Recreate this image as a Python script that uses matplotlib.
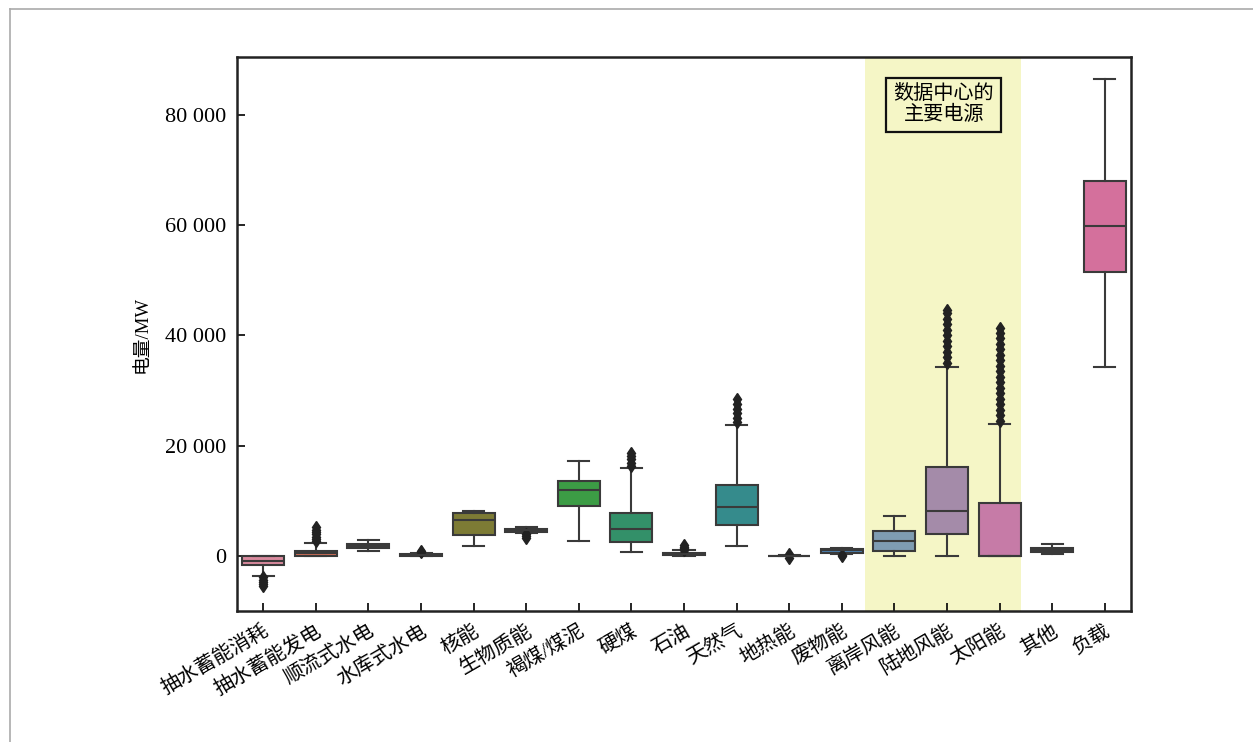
import matplotlib
matplotlib.use("Agg")
import matplotlib.pyplot as plt
from matplotlib.ticker import FuncFormatter
from matplotlib.lines import Line2D

plt.rcParams['font.family'] = ['Liberation Serif', 'Noto Sans CJK SC']

categories = ['抽水蓄能消耗', '抽水蓄能发电', '顺流式水电', '水库式水电', '核能', '生物质能',
              '褐煤/煤泥', '硬煤', '石油', '天然气', '地热能', '废物能', '离岸风能',
              '陆地风能', '太阳能', '其他', '负载']
whislo = [-3560, 0, 900, -100, 1870, 4100, 2770, 670, 0, 1750, -100, 400, 0, 0, 0, 360, 34200]
q1 = [-1600, 0, 1390, 0, 3860, 4400, 8990, 2530, 150, 5670, -40, 600, 850, 3920, 0, 700, 51580]
med = [-970, 450, 1800, 120, 6570, 4700, 12000, 4890, 350, 8870, 0, 1000, 2660, 8200, 0, 1100, 59900]
q3 = [0, 960, 2170, 300, 7720, 4940, 13570, 7780, 600, 12900, 40, 1270, 4580, 16050, 9540, 1500, 68050]
whishi = [0, 2350, 2950, 500, 8200, 5300, 17140, 15870, 1000, 23770, 100, 1450, 7240, 34200, 23900, 2230, 86500]
fliers = [
    [-3900, -4300, -4700, -5100, -5500],
    [2700, 3100, 3500, 3900, 4300, 4700, 5200],
    [],
    [650, 850],
    [],
    [3900, 3600, 3300],
    [],
    [16300, 16900, 17500, 18100, 18700],
    [1150, 1400, 1650, 1900],
    [24300, 25100, 25900, 26700, 27500, 28400],
    [-300, 300],
    [250, 0],
    [],
    [35000, 36000, 37000, 38000, 39000, 40000, 41000, 42000, 43000, 44000, 44600],
    [24500, 25500, 26500, 27500, 28500, 29500, 30500, 31500, 32500, 33500, 34500,
     35500, 36500, 37500, 38500, 39500, 40500, 41400],
    [],
    [],
]
colors = ['#d98a9e', '#cf6e58', '#a07c3c', '#9a8a34', '#7d7b35', '#6f8a3a', '#3c9c45',
          '#339069', '#34907e', '#358b8c', '#3a88a0', '#4a7fb0', '#7f9cb2', '#a48ba9',
          '#c67ba7', '#4e3452', '#d4709c']
band_range = (11.45, 14.4)
note_text = '数据中心的\n主要电源'
ylabel = '电量/MW'
yticks = [0, 20000, 40000, 60000, 80000]

fig = plt.figure(figsize=(12.53, 7.42), dpi=100)
ax = fig.add_axes([0.1891, 0.1765, 0.7136, 0.7466])

ax.axvspan(band_range[0], band_range[1], color='#f5f6c6', zorder=0, lw=0)

stats = []
for i, c in enumerate(categories):
    stats.append(dict(label=c, whislo=whislo[i], q1=q1[i], med=med[i], q3=q3[i],
                      whishi=whishi[i], fliers=fliers[i]))

lc = '#3a3a3a'
bp = ax.bxp(stats, positions=list(range(len(categories))), widths=0.8,
            patch_artist=True, showfliers=True,
            boxprops=dict(edgecolor=lc, linewidth=1.5),
            whiskerprops=dict(color=lc, linewidth=1.5),
            capprops=dict(color=lc, linewidth=1.5),
            medianprops=dict(color=lc, linewidth=1.5),
            flierprops=dict(marker='d', markerfacecolor='#222222', markeredgecolor='#222222',
                            markersize=6.5, linestyle='none'))
for patch, col in zip(bp['boxes'], colors):
    patch.set_facecolor(col)

ax.set_xlim(-0.5, len(categories) - 0.5)
ax.set_ylim(-10000, 90500)
ax.set_yticks(yticks)
ax.yaxis.set_major_formatter(FuncFormatter(lambda v, p: f"{int(v):,}".replace(',', ' ')))
ax.set_xticks(range(len(categories)))
ax.set_xticklabels(categories, rotation=30, ha='right', rotation_mode='anchor', fontsize=14.5)
ax.tick_params(axis='both', direction='in', length=6, width=1.2, colors='black')
ax.tick_params(axis='y', labelsize=16, pad=8)
ax.tick_params(axis='x', pad=8)
for s in ax.spines.values():
    s.set_linewidth(1.8)
    s.set_color('#222222')
ax.set_ylabel(ylabel, fontsize=13.5, labelpad=10)

ax.text(12.94, 81800, note_text, ha='center', va='center', fontsize=14.5,
        linespacing=1.1,
        bbox=dict(boxstyle='square,pad=0.35', facecolor='#f5f6c6', edgecolor='#111111', linewidth=1.6))

fig.add_artist(Line2D([10 / 1253, 10 / 1253], [0, 1 - 9 / 742], transform=fig.transFigure,
                      color='#aaaaaa', linewidth=1.2))
fig.add_artist(Line2D([10 / 1253, 1], [1 - 9 / 742, 1 - 9 / 742], transform=fig.transFigure,
                      color='#aaaaaa', linewidth=1.2))

fig.savefig('out.png', dpi=100)
